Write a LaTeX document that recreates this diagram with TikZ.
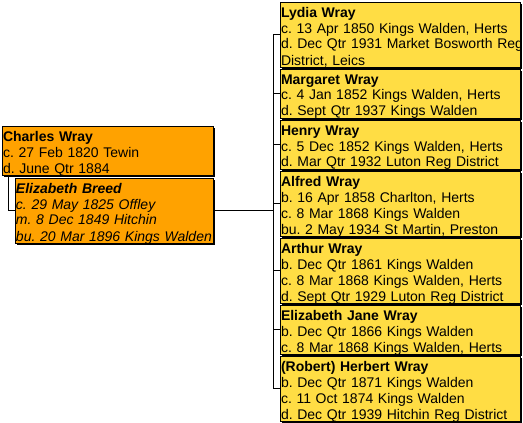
\documentclass[tikz,border=0pt]{standalone}
\usepackage{fontspec}
\setmainfont{Liberation Sans}
\usetikzlibrary{positioning,shadows}
\frenchspacing
\definecolor{parentfill}{RGB}{255,162,0}
\definecolor{childfill}{RGB}{255,221,68}
\tikzset{
  person/.style={anchor=north west, draw=black, line width=0.8pt, outer sep=0pt,
    inner xsep=1pt, inner ysep=0pt, align=left, text height=15pt,
    font=\fontsize{14pt}{16pt}\selectfont\frenchspacing,
    drop shadow={shadow xshift=2pt, shadow yshift=-2pt, fill=black, opacity=1}},
  parent/.style={person, fill=parentfill},
  child/.style={person, fill=childfill, text width=238pt},
  three/.style={text depth=34pt},
  four/.style={text depth=50pt},
  link/.style={draw=black, line width=0.8pt}
}
\begin{document}
\begin{tikzpicture}[x=1pt,y=1pt]
  \useasboundingbox (0,0) rectangle (523,-423);

  % Padres
  \node[parent, three, text width=209pt] (charles) at (2,-126)
    {\textbf{Charles Wray}\\c. 27 Feb 1820 Tewin\\d. June Qtr 1884};
  \node[parent, four, text width=196pt] (elizabeth) at (15,-178)
    {\itshape\textbf{Elizabeth Breed}\\c. 29 May 1825 Offley\\m. 8 Dec 1849 Hitchin\\\mbox{bu. 20 Mar 1896 Kings Walden}};

  % Hijos
  \node[child, four] (lydia) at (280,-2)
    {\textbf{Lydia Wray}\\c. 13 Apr 1850 Kings Walden, Herts\\\mbox{d. Dec Qtr 1931 Market Bosworth Reg}\\District, Leics};
  \node[child, three, below=2pt of lydia.south west, anchor=north west] (margaret)
    {\textbf{Margaret Wray}\\c. 4 Jan 1852 Kings Walden, Herts\\d. Sept Qtr 1937 Kings Walden};
  \node[child, three, below=2pt of margaret.south west, anchor=north west] (henry)
    {\textbf{Henry Wray}\\c. 5 Dec 1852 Kings Walden, Herts\\d. Mar Qtr 1932 Luton Reg District};
  \node[child, four, below=2pt of henry.south west, anchor=north west] (alfred)
    {\textbf{Alfred Wray}\\b. 16 Apr 1858 Charlton, Herts\\c. 8 Mar 1868 Kings Walden\\bu. 2 May 1934 St Martin, Preston};
  \node[child, four, below=2pt of alfred.south west, anchor=north west] (arthur)
    {\textbf{Arthur Wray}\\b. Dec Qtr 1861 Kings Walden\\c. 8 Mar 1868 Kings Walden, Herts\\d. Sept Qtr 1929 Luton Reg District};
  \node[child, three, below=2pt of arthur.south west, anchor=north west] (janeliz)
    {\textbf{Elizabeth Jane Wray}\\b. Dec Qtr 1866 Kings Walden\\c. 8 Mar 1868 Kings Walden, Herts};
  \node[child, four, below=2pt of janeliz.south west, anchor=north west] (robert)
    {\textbf{(Robert) Herbert Wray}\\b. Dec Qtr 1871 Kings Walden\\c. 11 Oct 1874 Kings Walden\\d. Dec Qtr 1939 Hitchin Reg District};

  % Conectores
  \coordinate (fork) at (273,-210);
  \draw[link] ([xshift=6pt]charles.south west) |- (elizabeth.west);
  \draw[link] (elizabeth.east) -- (elizabeth.east -| fork);
  \draw[link] (lydia.west -| fork) -- (robert.west -| fork);
  \foreach \kid in {lydia,margaret,henry,alfred,arthur,janeliz,robert}
    \draw[link] (\kid.west -| fork) -- (\kid.west);
\end{tikzpicture}
\end{document}
